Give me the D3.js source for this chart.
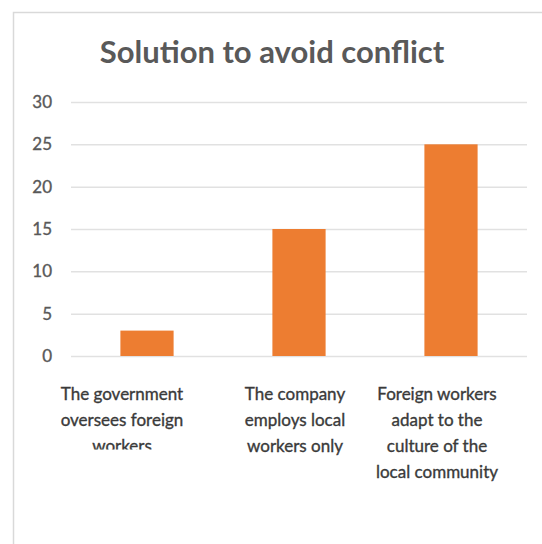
<!DOCTYPE html>
<html>
<head>
<meta charset="utf-8">
<script src="https://cdn.jsdelivr.net/npm/d3@7"></script>
<style>
  html, body { margin: 0; padding: 0; background: #fff; }
  svg { display: block; }
</style>
</head>
<body>
<svg id="chart" width="542" height="544"></svg>
<script>
// Survey answers: preferred solution to avoid conflict
const categories = [
  "The government oversees foreign workers",
  "The company employs local workers only",
  "Foreign workers adapt to the culture of the local community"
];
const categoryLines = [
  ["The government", "oversees foreign", "workers"],
  ["The company", "employs local", "workers only"],
  ["Foreign workers", "adapt to the", "culture of the", "local community"]
];
const counts = [3, 15, 25];
const yTicks = [0, 5, 10, 15, 20, 25, 30];
const title = "Solution to avoid conflict";

const svg = d3.select("#chart");
const W = 542, H = 544;
const plot = { left: 71, right: 527, top: 102, bottom: 356 };
const font = "Lato, 'Open Sans', sans-serif";
// horizontal nudge of each wrapped label box relative to its bar
const labelNudge = [-25, -4, -14];

// chart area frame (only top and left edges are visible)
svg.append("path")
  .attr("d", `M13.5,${H} V12.5 H${W}`)
  .attr("fill", "none")
  .attr("stroke", "#d9d9d9")
  .attr("stroke-width", 1.5);

// title
svg.append("text")
  .attr("x", 272).attr("y", 63)
  .attr("text-anchor", "middle")
  .attr("font-family", font)
  .attr("font-weight", 700)
  .attr("font-size", 31)
  .attr("fill", "#595959")
  .text(title);

const x = d3.scaleBand()
  .domain(categories)
  .range([plot.left, plot.right])
  .paddingInner(0.65)
  .paddingOuter(0.325);

const y = d3.scaleLinear()
  .domain([0, 30])
  .range([plot.bottom, plot.top]);

// horizontal gridlines with value labels
const yAxis = d3.axisLeft(y)
  .tickValues(yTicks)
  .tickSize(-(plot.right - plot.left))
  .tickPadding(19)
  .tickFormat(d3.format("d"));

const gy = svg.append("g")
  .attr("transform", `translate(${plot.left},0)`)
  .call(yAxis);
gy.select(".domain").remove();
gy.selectAll(".tick line")
  .attr("stroke", "#e1e1e1")
  .attr("stroke-width", 1.5);
gy.selectAll(".tick text")
  .attr("font-family", font)
  .attr("font-size", 17)
  .attr("fill", "#595959")
  .attr("stroke", "#595959")
  .attr("stroke-width", 0.35);

// bars
svg.append("g")
  .selectAll("rect")
  .data(categories)
  .join("rect")
  .attr("x", d => x(d))
  .attr("width", x.bandwidth())
  .attr("y", (d, i) => y(counts[i]))
  .attr("height", (d, i) => y(0) - y(counts[i]))
  .attr("fill", "#ed7d31");

// category labels, wrapped; the first one is cut off at the bottom
svg.append("defs").append("clipPath")
  .attr("id", "clip-first")
  .append("rect")
  .attr("x", 0).attr("y", 370)
  .attr("width", W).attr("height", 79.5);

const labels = svg.append("g")
  .selectAll("text")
  .data(categories)
  .join("text")
  .attr("text-anchor", "middle")
  .attr("font-family", font)
  .attr("font-size", 17)
  .attr("fill", "#3a3a3a")
  .attr("stroke", "#3a3a3a")
  .attr("stroke-width", 0.35)
  .attr("clip-path", (d, i) => i === 0 ? "url(#clip-first)" : null);

labels.each(function (d, i) {
  const cx = x(d) + x.bandwidth() / 2 + labelNudge[i];
  d3.select(this).selectAll("tspan")
    .data(categoryLines[i])
    .join("tspan")
    .attr("x", cx)
    .attr("y", (t, j) => 400 + j * 26)
    .text(t => t);
});
</script>
</body>
</html>
